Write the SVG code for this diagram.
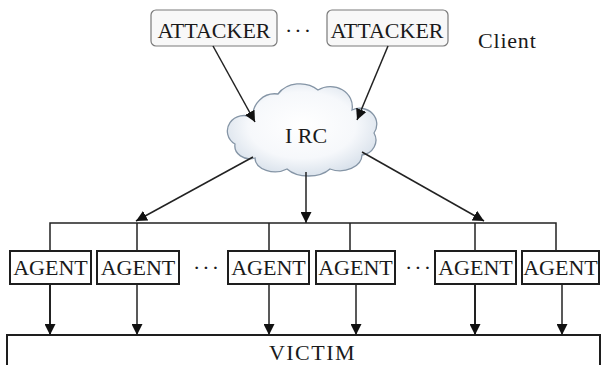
<svg xmlns="http://www.w3.org/2000/svg" width="602" height="365" viewBox="0 0 602 365">
<style>
  text { font-family: "Liberation Serif", "Times New Roman", serif; fill: #1a1a1a; }
  .lbl { font-size: 22px; text-anchor: middle; }
  .att { fill: #f8f8f8; stroke: #7a7a7a; stroke-width: 1.2; }
  .agt { fill: #ffffff; stroke: #1e1e1e; stroke-width: 2; }
  .ln { stroke: #222; stroke-width: 1.5; fill: none; }
  .ln2 { stroke: #222; stroke-width: 2; fill: none; }
  .arr { marker-end: url(#ah); }
</style>
<defs>
  <marker id="ah" viewBox="0 0 10 10" refX="10" refY="5" markerWidth="11" markerHeight="11" markerUnits="userSpaceOnUse" orient="auto">
    <path d="M0,0 L10,5 L0,10 z" fill="#111"/>
  </marker>
  <radialGradient id="cg" cx="0.5" cy="0.45" r="0.6">
    <stop offset="0" stop-color="#ffffff"/>
    <stop offset="0.6" stop-color="#f6f8fb"/>
    <stop offset="1" stop-color="#d3dde8"/>
  </radialGradient>
</defs>
<rect width="602" height="365" fill="#ffffff"/>

<g id="attacker1">
  <rect class="att" x="151" y="10" width="126" height="36" rx="5"/>
  <text class="lbl" x="214" y="37.5">ATTACKER</text>
</g>
<text x="299" y="37.5" class="lbl" letter-spacing="2">···</text>
<g id="attacker2">
  <rect class="att" x="327" y="10" width="121" height="36" rx="5"/>
  <text class="lbl" x="387" y="37.5">ATTACKER</text>
</g>
<text id="client" x="478" y="48" font-size="22" letter-spacing="0.8">Client</text>

<g id="irc">
  <path d="M253,118 A22,22 0 0 1 278,94 A26,22 0 0 1 318,90 A22,20 0 0 1 352,110 A17,16 0 0 1 374,133 A16,15 0 0 1 362,155 A22,16 0 0 1 330,169 A26,16 0 0 1 287,169 A20,14 0 0 1 255,158 A15,13 0 0 1 235,144 A14,13 0 0 1 253,118 Z" fill="url(#cg)" stroke="#8595a6" stroke-width="1.3"/>
  <text class="lbl" x="306" y="143">I RC</text>
</g>

<g id="agent1">
  <rect class="agt" x="10" y="251" width="81" height="33"/>
  <text class="lbl" x="50.5" y="275">AGENT</text>
</g>
<g id="agent2">
  <rect class="agt" x="97" y="251" width="82" height="33"/>
  <text class="lbl" x="138" y="275">AGENT</text>
</g>
<text x="207" y="275" class="lbl" letter-spacing="2">···</text>
<g id="agent3">
  <rect class="agt" x="228" y="251" width="81" height="33"/>
  <text class="lbl" x="268.5" y="275">AGENT</text>
</g>
<g id="agent4">
  <rect class="agt" x="316" y="251" width="79" height="33"/>
  <text class="lbl" x="355.5" y="275">AGENT</text>
</g>
<text x="419" y="275" class="lbl" letter-spacing="2">···</text>
<g id="agent5">
  <rect class="agt" x="435" y="251" width="81" height="33"/>
  <text class="lbl" x="475.5" y="275">AGENT</text>
</g>
<g id="agent6">
  <rect class="agt" x="522" y="251" width="77" height="33"/>
  <text class="lbl" x="560.5" y="275">AGENT</text>
</g>

<g id="victim">
  <rect x="7" y="335" width="593" height="40" fill="#ffffff" stroke="#1e1e1e" stroke-width="2"/>
  <text class="lbl" x="312.5" y="360" font-size="20" letter-spacing="1.5">VICTIM</text>
</g>

<g id="connectors">
  <line class="ln arr" x1="213" y1="46" x2="255" y2="122"/>
  <line class="ln arr" x1="388" y1="46" x2="357" y2="120"/>
  <line class="ln arr" x1="253" y1="157" x2="136" y2="221"/>
  <line class="ln arr" x1="362" y1="152" x2="484" y2="221"/>
  <line class="ln arr" x1="306" y1="172" x2="306" y2="223"/>
  <polyline class="ln" points="50,251 50,223 556,223 556,251"/>
  <line class="ln" x1="137" y1="223" x2="137" y2="251"/>
  <line class="ln" x1="269" y1="223" x2="269" y2="251"/>
  <line class="ln" x1="350" y1="223" x2="350" y2="251"/>
  <line class="ln" x1="475" y1="223" x2="475" y2="251"/>
  <line class="ln2 arr" x1="50" y1="285" x2="50" y2="335"/>
  <line class="ln arr" x1="137" y1="285" x2="137" y2="335"/>
  <line class="ln arr" x1="269" y1="285" x2="269" y2="335"/>
  <line class="ln arr" x1="356" y1="285" x2="356" y2="335"/>
  <line class="ln2 arr" x1="475" y1="285" x2="475" y2="335"/>
  <line class="ln arr" x1="562" y1="285" x2="562" y2="335"/>
</g>
</svg>
